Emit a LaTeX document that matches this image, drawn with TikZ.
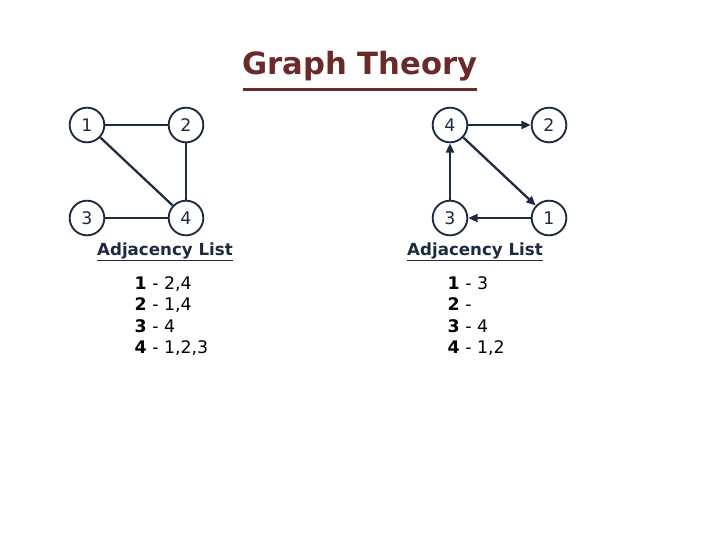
\documentclass[tikz,border=0pt]{standalone}
\usepackage{fontspec}
\setmainfont{DejaVu Sans}
\usetikzlibrary{arrows.meta}
\definecolor{navy}{HTML}{1C2B40}
\definecolor{titlered}{HTML}{6B2A2A}
\begin{document}
\begin{tikzpicture}[x=0.75pt,y=-0.75pt,
  vert/.style={circle,draw=navy,line width=1.4pt,minimum size=26pt,inner sep=0pt,font=\fontsize{13}{15}\selectfont,text=navy},
  edge/.style={draw=navy,line width=1.7pt},
  arc/.style={edge,-{Triangle[length=7pt,width=6pt]}},
  hdr/.style={font=\fontsize{12.5}{14}\selectfont\bfseries,text=navy},
  lst/.style={font=\fontsize{13}{16}\selectfont,text=black,anchor=west,align=left}]
\useasboundingbox (0,0) rectangle (720,540);
\node[font=\fontsize{23}{28}\selectfont\bfseries,text=titlered] (title) at (360,66) {Graph Theory};
\draw[titlered,line width=2pt] ([yshift=-3pt]title.south west) ++(4pt,0) -- ([yshift=-3pt,xshift=-4pt]title.south east);
\node[vert] (a1) at (87,125) {1};
\node[vert] (a2) at (186,125) {2};
\node[vert] (a3) at (87,218) {3};
\node[vert] (a4) at (186,218) {4};
\draw[edge] (a1)--(a2); \draw[edge] (a1)--(a4); \draw[edge] (a2)--(a4); \draw[edge] (a3)--(a4);
\node[vert] (b4) at (450,125) {4};
\node[vert] (b2) at (549,125) {2};
\node[vert] (b3) at (450,218) {3};
\node[vert] (b1) at (549,218) {1};
\draw[arc] (b4)--(b2); \draw[arc] (b4)--(b1); \draw[arc] (b1)--(b3); \draw[arc] (b3)--(b4);
\node[hdr] (h1) at (165,252) {\underline{Adjacency List}};
\node[hdr] (h2) at (475,252) {\underline{Adjacency List}};
\node[lst] (l1) at (130,316) {\textbf{1} - 2,4\\\textbf{2} - 1,4\\\textbf{3} - 4\\\textbf{4} - 1,2,3};
\node[lst] (l2) at (443,316) {\textbf{1} - 3\\\textbf{2} -\\\textbf{3} - 4\\\textbf{4} - 1,2};
\end{tikzpicture}
\end{document}
